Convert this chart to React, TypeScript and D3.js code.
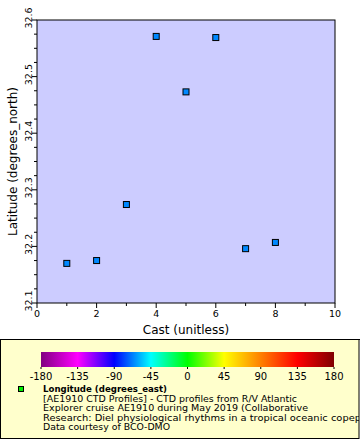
import React from "react";
import * as d3 from "d3";

const casts = [1, 2, 3, 4, 5, 6, 7, 8];
const latitudes = [32.170, 32.175, 32.274, 32.571, 32.473, 32.569, 32.196, 32.207];
const xTicks = [0, 2, 4, 6, 8, 10];
const yTicks = [32.1, 32.2, 32.3, 32.4, 32.5, 32.6];
const cbTicks = [-180, -135, -90, -45, 0, 45, 90, 135, 180];
const cbColors = ["#800080", "#ff00ff", "#0000ff", "#00ffff", "#00ff00", "#ffff00", "#ff8000", "#ff0000", "#800000"];
const legendTitle = "Longitude (degrees_east)";
const legendLines = [
  "[AE1910 CTD Profiles] - CTD profiles from R/V Atlantic",
  "Explorer cruise AE1910 during May 2019 (Collaborative",
  "Research: Diel physiological rhythms in a tropical oceanic copep",
  "Data courtesy of BCO-DMO",
];

const W = 360, H = 440;
const L = 37, R = 335, T = 20, B = 303;
const FONT = "DejaVu Sans, sans-serif";
const LINE_WIDTHS = [254, 265, 318, 127];

export default function App() {
  const x = d3.scaleLinear().domain([0, 10]).range([L, R]);
  const y = d3.scaleLinear().domain([32.1, 32.6]).range([B, T]);
  const cb = d3.scaleLinear().domain([-180, 180]).range([41, 334]);
  const xMinor = d3.range(1, 10, 2);
  const yMinor = d3.range(0, 21).map((i) => 32.1 + i * 0.025).filter((v, i) => i % 4 !== 0);
  return (
    <svg width={W} height={H} style={{ position: "absolute", left: 0, top: 0 }} fontFamily={FONT}>
      <defs>
        <linearGradient id="rb" x1="0" x2="1" y1="0" y2="0">
          {cbColors.map((c, i) => (
            <stop key={i} offset={i / (cbColors.length - 1)} stopColor={c} />
          ))}
        </linearGradient>
        <clipPath id="lc">
          <rect x={0} y={339} width={359} height={100} />
        </clipPath>
      </defs>
      <rect x={0} y={0} width={W} height={H} fill="#fff" />
      <rect x={L} y={T} width={R - L} height={B - T} fill="#ccccff" stroke="#000" strokeWidth={1} />
      {xTicks.map((t) => (
        <g key={t}>
          <line x1={x(t)} x2={x(t)} y1={B} y2={B + 5} stroke="#000" />
          <text x={x(t)} y={B + 14} fontSize={9.5} textAnchor="middle">{t}</text>
        </g>
      ))}
      {xMinor.map((t) => (
        <line key={t} x1={x(t)} x2={x(t)} y1={B} y2={B + 3} stroke="#000" />
      ))}
      {yTicks.map((t) => (
        <g key={t}>
          <line x1={L - 5} x2={L} y1={y(t)} y2={y(t)} stroke="#000" />
          <text transform={`translate(${L - 5},${y(t) - 2}) rotate(-90)`} fontSize={9.5} textAnchor="middle">{t.toFixed(1)}</text>
        </g>
      ))}
      {yMinor.map((t, i) => (
        <line key={i} x1={L - 3} x2={L} y1={y(t)} y2={y(t)} stroke="#000" />
      ))}
      <text x={(L + R) / 2} y={334} fontSize={12} textAnchor="middle">Cast (unitless)</text>
      <text transform={`translate(17,${(T + B) / 2}) rotate(-90)`} fontSize={12} textAnchor="middle">Latitude (degrees_north)</text>
      {casts.map((c, i) => (
        <rect key={c} x={x(c) - 3} y={y(latitudes[i]) - 3} width={6} height={6} fill="#0088ff" stroke="#000" strokeWidth={1} />
      ))}
      <line x1={0} x2={W} y1={339.5} y2={339.5} stroke="#000" />
      <rect x={0.5} y={339.5} width={358.5} height={99} fill="#ffffcc" stroke="#000" />
      <rect x={41} y={352} width={293} height={15} fill="url(#rb)" />
      {cbTicks.map((t) => (
        <g key={t}>
          <line x1={cb(t)} x2={cb(t)} y1={367} y2={369} stroke="#000" />
          <text x={cb(t)} y={380} fontSize={10} textAnchor="middle">{t}</text>
        </g>
      ))}
      <rect x={18.5} y={386.5} width={5} height={5} fill="#00ee00" stroke="#000" />
      <g clipPath="url(#lc)">
        <text x={43} y={392} fontSize={8.2} fontWeight="bold" textLength={124} lengthAdjust="spacingAndGlyphs">{legendTitle}</text>
        {legendLines.map((s, i) => (
          <text key={i} x={43} y={401.5 + i * 9.5} fontSize={8.2} textLength={LINE_WIDTHS[i]} lengthAdjust="spacingAndGlyphs">{s}</text>
        ))}
      </g>
    </svg>
  );
}
